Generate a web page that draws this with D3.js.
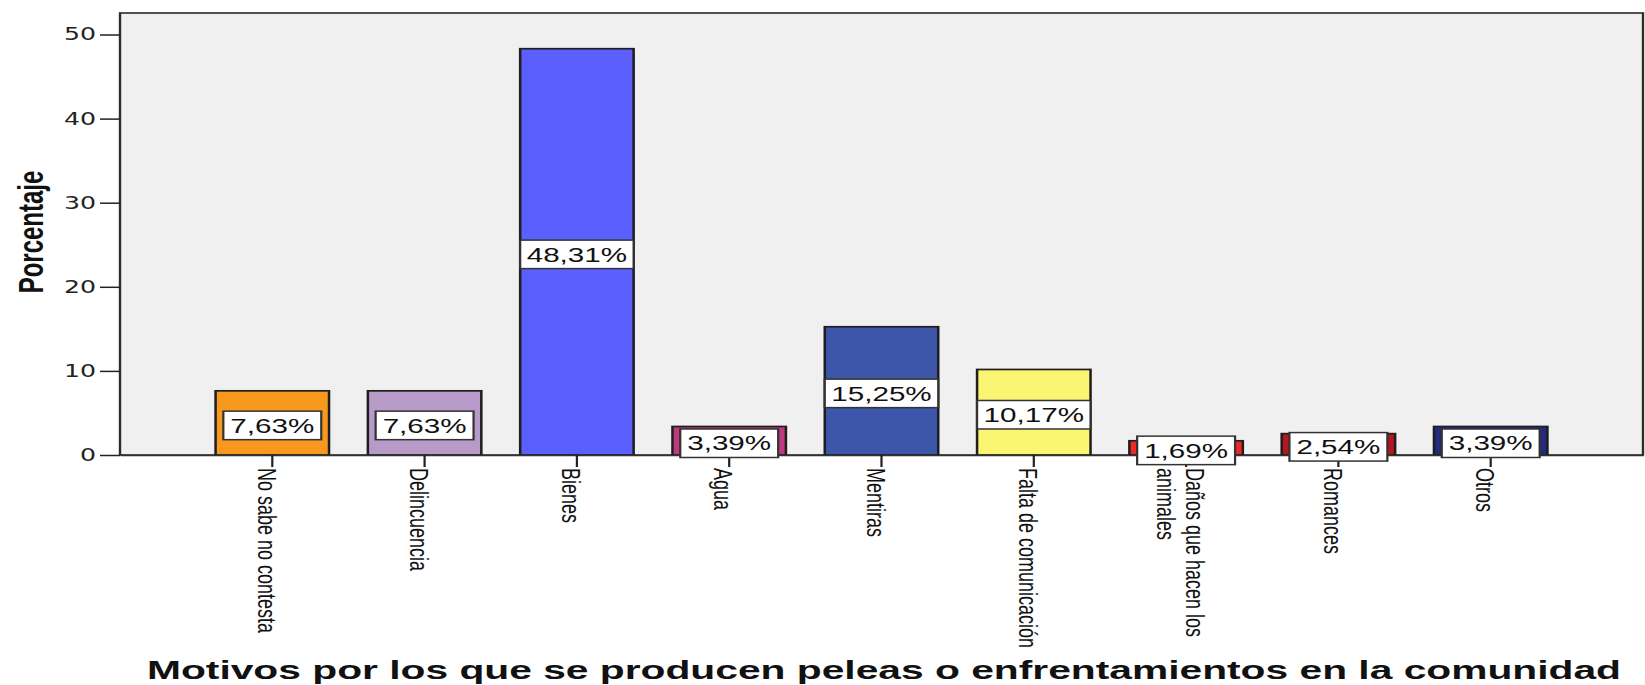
<!DOCTYPE html>
<html><head><meta charset="utf-8">
<script src="https://cdn.jsdelivr.net/npm/d3@7"></script>
<style>body{margin:0;background:#fff} svg{display:block}</style>
</head><body><svg id="c" width="1645" height="685"></svg>
<script>
const categories = ["No sabe no contesta","Delincuencia","Bienes","Agua","Mentiras","Falta de comunicación","Daños que hacen los animales","Romances","Otros"];
const categoryLines = [["No sabe no contesta"],["Delincuencia"],["Bienes"],["Agua"],["Mentiras"],["Falta de comunicación"],["Daños que hacen los","animales"],["Romances"],["Otros"]];
const percentages = [7.63, 7.63, 48.31, 3.39, 15.25, 10.17, 1.69, 2.54, 3.39];
const barColors = ["#F7991E","#B89AC9","#5A5FFE","#C0387E","#3D56A9","#FAF573","#EC2A2E","#B4171D","#252A7E"];
const yTicks = [0, 10, 20, 30, 40, 50];
const yLabel = "Porcentaje";
const xTitle = "Motivos por los que se producen peleas o enfrentamientos en la comunidad";

const SX = 1.48;               // horizontal stretch of the original picture
const u = v => v / SX;
const pLeft = 120, pRight = 1643, pTop = 13, pBottom = 455;

const svg = d3.select("#c");
const g = svg.append("g").attr("transform", `scale(${SX},1)`);

const x = d3.scaleBand().domain(categories).range([u(pLeft), u(pRight)])
  .paddingInner(0.255).paddingOuter(0.6275);
const y = d3.scaleLinear().domain([0, 50]).range([pBottom, 34.5]);

// plot background
g.append("rect").attr("x", u(pLeft)).attr("y", pTop)
  .attr("width", u(pRight - pLeft)).attr("height", pBottom - pTop)
  .attr("fill", "#F0F0F0").attr("stroke", "#2b2b2b").attr("stroke-width", 1.6);

const data = categories.map((c, i) => ({c, v: percentages[i], col: barColors[i], lines: categoryLines[i]}));

// bars
g.selectAll("rect.bar").data(data).join("rect").attr("class", "bar")
  .attr("x", d => x(d.c)).attr("y", d => y(d.v))
  .attr("width", x.bandwidth()).attr("height", d => y(0) - y(d.v))
  .attr("fill", d => d.col).attr("stroke", "#1e1e1e").attr("stroke-width", 1.7);

// x axis
const xa = g.append("g").attr("transform", `translate(0,${pBottom})`)
  .call(d3.axisBottom(x).tickSize(12).tickSizeOuter(0).tickFormat(""));
xa.select(".domain").attr("stroke", "#333").attr("stroke-width", 1.5);
xa.selectAll(".tick line").attr("stroke", "#222").attr("stroke-width", 1.5);

// x tick labels (rotated)
const lineStep = 19.3;
data.forEach(d => {
  const cx = x(d.c) + x.bandwidth() / 2;
  const n = d.lines.length;
  const t = g.append("text")
    .attr("transform", `translate(${cx},${pBottom + 13}) rotate(90)`)
    .attr("font-family", "'Liberation Sans', Arial, sans-serif")
    .attr("font-size", 18).attr("fill", "#111").attr("text-anchor", "start");
  d.lines.forEach((ln, i) => {
    const off = -(((n - 1) / 2 - i) * lineStep) + 3.5;
    t.append("tspan").attr("x", 0).attr("y", off).attr("dy", "0.36em").text(ln);
  });
});

// y axis
const ya = g.append("g").attr("transform", `translate(${u(pLeft)},0)`)
  .call(d3.axisLeft(y).tickValues(yTicks).tickSize(u(20)).tickSizeOuter(0).tickPadding(u(4)));
ya.select(".domain").remove();
ya.selectAll(".tick line").attr("stroke", "#222").attr("stroke-width", 1.5);
ya.selectAll(".tick text").attr("font-family", "'DejaVu Sans', Verdana, sans-serif")
  .attr("font-size", 17).attr("fill", "#222");

// value labels
const fmt = v => d3.format(".2f")(v).replace(".", ",") + "%";
data.forEach(d => {
  const cx = x(d.c) + x.bandwidth() / 2;
  const cy = (y(d.v) + y(0)) / 2 + 2.5;
  const lg = g.append("g");
  const box = lg.append("rect");
  const t = lg.append("text").attr("x", cx).attr("y", cy).attr("dy", "0.36em")
    .attr("text-anchor", "middle")
    .attr("font-family", "'Liberation Sans', Arial, sans-serif")
    .attr("font-size", 20).attr("fill", "#111").text(fmt(d.v));
  const tw = t.node().getComputedTextLength();
  const bw = Math.min(tw + u(14), x.bandwidth());
  const bh = 28.5;
  box.attr("x", cx - bw / 2).attr("y", cy - bh / 2).attr("width", bw).attr("height", bh)
    .attr("fill", "#fff").attr("stroke", "#333").attr("stroke-width", 1.5);
});

// y label
g.append("text").attr("transform", `translate(${u(43)},232) rotate(-90)`)
  .attr("text-anchor", "middle").attr("font-family", "'Liberation Sans', Arial, sans-serif")
  .attr("font-weight", "bold").attr("font-size", 24).attr("fill", "#111").text(yLabel);

// x title
g.append("text").attr("x", u(884)).attr("y", 679).attr("text-anchor", "middle")
  .attr("font-family", "'Liberation Sans', Arial, sans-serif").attr("font-weight", "bold")
  .attr("font-size", 25).attr("fill", "#111")
  .attr("textLength", u(1474)).attr("lengthAdjust", "spacingAndGlyphs").text(xTitle);
</script></body></html>
